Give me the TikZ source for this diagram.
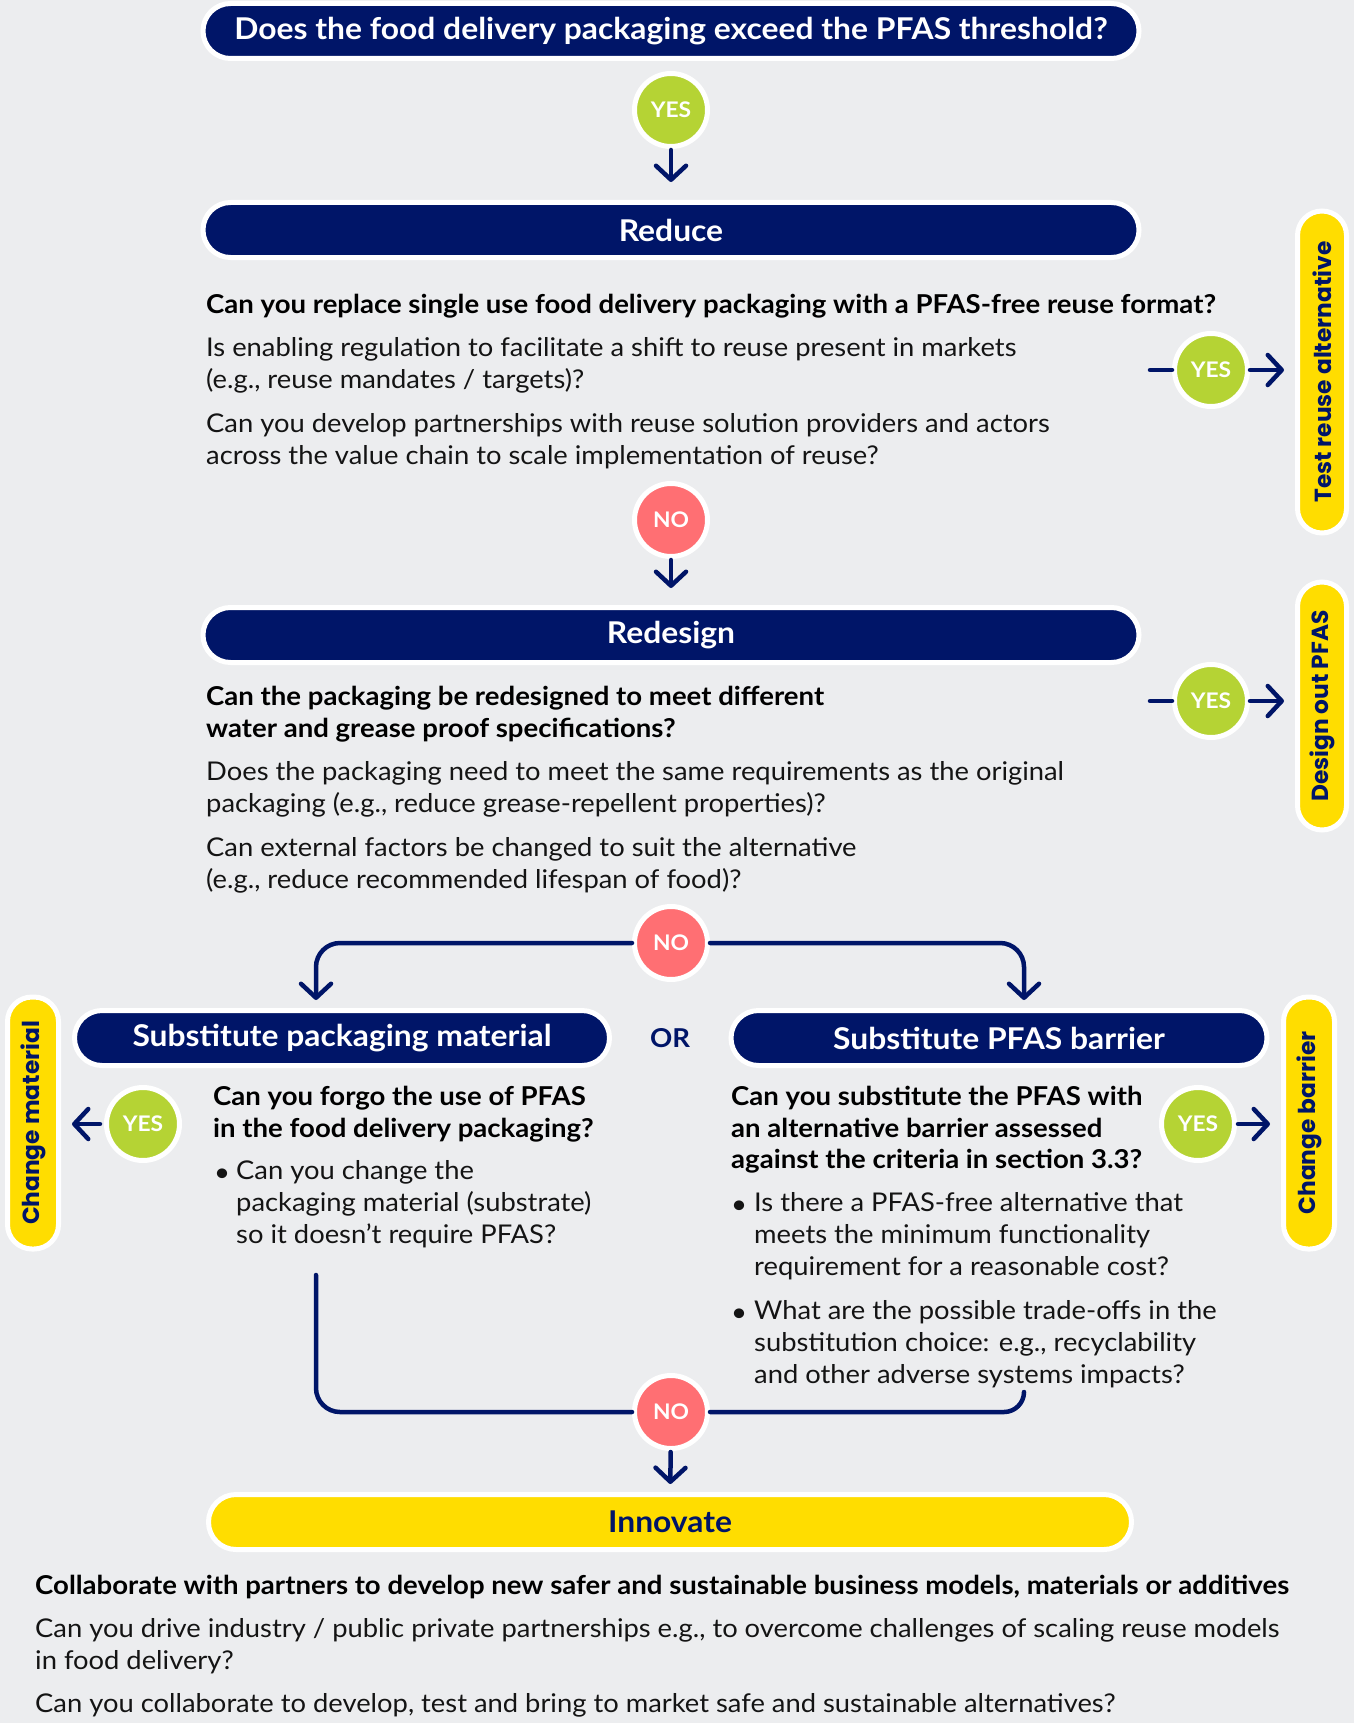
\documentclass[tikz,border=0pt]{standalone}
\usepackage{fontspec}
\setmainfont{Lato}[FakeStretch=1.06]
\newfontfamily\tabfont{Poppins}
\usetikzlibrary{arrows.meta}
\definecolor{bg}{RGB}{236,237,239}
\definecolor{navy}{RGB}{0,21,104}
\definecolor{lime}{RGB}{181,211,52}
\definecolor{salmon}{RGB}{255,111,115}
\definecolor{yel}{RGB}{255,221,0}
\definecolor{txt}{RGB}{20,20,20}
\tikzset{
  bar/.style={rectangle, rounded corners=27.5pt, fill=navy, draw=white, line width=5pt, inner sep=0pt,
    minimum height=55pt, text=white, font=\fontsize{30}{32}\selectfont\bfseries},
  ybar/.style={bar, fill=yel, text=navy},
  tab/.style={rectangle, rounded corners=24.5pt, fill=yel, draw=white, line width=5pt, rotate=90,
    minimum height=49pt, inner sep=0pt, text=navy, font=\tabfont\fontsize{23.3}{26}\selectfont\bfseries},
  yes/.style={circle, fill=lime, draw=white, line width=5pt, minimum size=73pt, inner sep=0pt,
    text=white, font=\fontsize{21.5}{24}\selectfont\bfseries},
  no/.style={yes, fill=salmon},
  conn/.style={draw=navy, line width=4.5pt, line cap=round},
  arr/.style={conn, -{Straight Barb[length=14pt,width=30pt,round]}},
  body/.style={anchor=mid west, inner sep=0pt, font=\fontsize{25.8}{32}\selectfont, text=txt},
  q/.style={body, font=\fontsize{26}{32}\selectfont\bfseries, text=black},
  bul/.style={anchor=mid, inner sep=0pt, font=\fontsize{26}{32}\selectfont, text=txt}
}
\begin{document}
\begin{tikzpicture}[x=1pt,y=-1pt]
\useasboundingbox (0,0) rectangle (1354,1723);
\fill[bg] (0,0) rectangle (1354,1723);

% main column
\node[bar, minimum width=936pt] (head) at (671,31) {Does the food delivery packaging exceed the PFAS threshold?};
\node[yes] (yes1) at (671,110) {YES};
\node[bar, minimum width=936pt] (reduce) at (671,230) {Reduce};

\node[q] (r1) at (206,311) {Can you replace single use food delivery packaging with a PFAS-free reuse format?};
\node[body] (r2) at (206,354) {Is enabling regulation to facilitate a shift to reuse present in markets};
\node[body] (r3) at (206,386) {(e.g., reuse mandates / targets)?};
\node[body] (r4) at (206,430) {Can you develop partnerships with reuse solution providers and actors};
\node[body] (r5) at (206,462) {across the value chain to scale implementation of reuse?};

\node[yes] (yR1) at (1211,370) {YES};
\node[tab, minimum width=322pt] (tab1) at (1322,372) {Test reuse alternative};
\coordinate (dR1) at (1150,370);

\node[no] (no1) at (671,520) {NO};
\node[bar, minimum width=936pt] (redesign) at (671,635) {Redesign};

\node[q] (d1) at (206,703) {Can the packaging be redesigned to meet different};
\node[q] (d2) at (206,735) {water and grease proof specifications?};
\node[body] (d3) at (206,778) {Does the packaging need to meet the same requirements as the original};
\node[body] (d4) at (206,810) {packaging (e.g., reduce grease-repellent properties)?};
\node[body] (d5) at (206,854) {Can external factors be changed to suit the alternative};
\node[body] (d6) at (206,886) {(e.g., reduce recommended lifespan of food)?};

\node[yes] (yR2) at (1211,701) {YES};
\node[tab, minimum width=248pt] (tab2) at (1322,706) {Design out PFAS};
\coordinate (dR2) at (1150,701);

\node[no] (no2) at (671,943) {NO};
\coordinate (tL) at (316,1000);
\coordinate (tR) at (1024,1000);
\node[text=navy, font=\fontsize{26}{28}\selectfont\bfseries, inner sep=0pt] (or) at (670,1038) {OR};

\node[bar, minimum width=535pt] (subM) at (342,1038) {Substitute packaging material};
\node[bar, minimum width=536pt] (subB) at (999,1038) {Substitute PFAS barrier};

\node[tab, minimum width=252pt, minimum height=51pt] (tab3) at (33,1123) {Change material};
\node[yes] (yL) at (143,1124) {YES};
\node[q] (m1) at (213,1103) {Can you forgo the use of PFAS};
\node[q] (m2) at (213,1135) {in the food delivery packaging?};
\node[bul] (mb) at (222,1179) {•};
\node[body] (m3) at (236,1177) {Can you change the};
\node[body] (m4) at (236,1209) {packaging material (substrate)};
\node[body] (m5) at (236,1241) {so it doesn’t require PFAS?};

\node[q] (b1) at (731,1103) {Can you substitute the PFAS with};
\node[q] (b2) at (731,1135) {an alternative barrier assessed};
\node[q] (b3) at (731,1166) {against the criteria in section 3.3?};
\node[bul] (bb1) at (739,1211) {•};
\node[body] (b4) at (754,1209) {Is there a PFAS-free alternative that};
\node[body] (b5) at (754,1241) {meets the minimum functionality};
\node[body] (b6) at (754,1273) {requirement for a reasonable cost?};
\node[bul] (bb2) at (739,1319) {•};
\node[body] (b7) at (754,1317) {What are the possible trade-offs in the};
\node[body] (b8) at (754,1349) {substitution choice: e.g., recyclability};
\node[body] (b9) at (754,1381) {and other adverse systems impacts?};
\node[yes] (yR3) at (1198,1124) {YES};
\node[tab, minimum width=252pt, minimum height=51pt] (tab4) at (1309,1123) {Change barrier};

\coordinate (bL) at (316,1275);
\coordinate (bR) at (1024,1392);
\node[no] (no3) at (671,1412) {NO};
\node[ybar, minimum width=923pt] (innov) at (670,1522) {Innovate};

\node[q] (i1) at (35,1592) {Collaborate with partners to develop new safer and sustainable business models, materials or additives};
\node[body] (i2) at (35,1635) {Can you drive industry / public private partnerships e.g., to overcome challenges of scaling reuse models};
\node[body] (i3) at (35,1667) {in food delivery?};
\node[body] (i4) at (35,1710) {Can you collaborate to develop, test and bring to market safe and sustainable alternatives?};

% connectors
\draw[arr, shorten <=1pt, shorten >=18pt] (yes1) -- (reduce);
\draw[arr, shorten <=1pt, shorten >=17pt] (no1) -- (redesign);
\draw[conn] (dR1) -- (yR1);
\draw[arr, shorten >=38pt] (yR1) -- (yR1 -| tab1);
\draw[conn] (dR2) -- (yR2);
\draw[arr, shorten >=38pt] (yR2) -- (yR2 -| tab2);
\draw[arr, rounded corners=24pt] (no2) -| (tL);
\draw[arr, rounded corners=24pt] (no2) -| (tR);
\draw[arr, shorten <=4pt, shorten >=39pt] (yL) -- (yL -| tab3);
\draw[arr, shorten <=1pt, shorten >=39pt] (yR3) -- (yR3 -| tab4);
\draw[conn, rounded corners=24pt] (bL) |- (no3);
\draw[conn, rounded corners=20pt] (no3) -| (bR);
\draw[arr, shorten <=1pt, shorten >=8pt] (no3) -- (innov);
\end{tikzpicture}
\end{document}
